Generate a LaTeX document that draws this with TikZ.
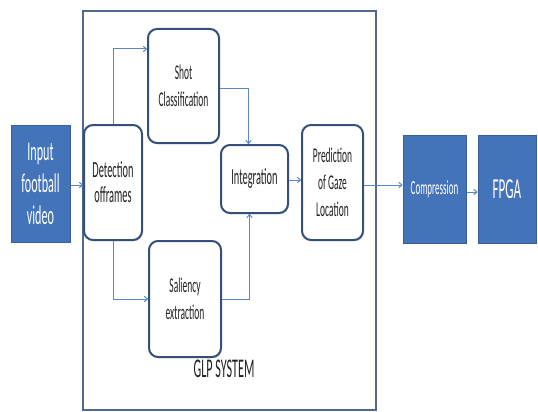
\documentclass[tikz,border=0pt]{standalone}
\usepackage{fontspec}
\setmainfont{Carlito}[FakeStretch=0.45]
\usetikzlibrary{arrows.meta,shadows}
\definecolor{bluefill}{HTML}{4373B9}
\definecolor{blueedge}{HTML}{3A5F95}
\definecolor{boxedge}{HTML}{344F78}
\definecolor{arrowc}{HTML}{5A87C2}
\definecolor{outeredge}{HTML}{52698F}
\definecolor{txt}{HTML}{222222}
\tikzset{
  bluebox/.style={draw=blueedge, line width=1pt, fill=bluefill, text=white, align=center, inner sep=0pt},
  roundbox/.style={draw=boxedge, line width=2pt, rounded corners=9pt, fill=white, text=txt, align=center, inner sep=0pt,
     drop shadow={shadow xshift=0.8pt, shadow yshift=-1.2pt, opacity=0.35}},
  outerbox/.style={draw=outeredge, line width=1.8pt, inner sep=0pt},
  arr/.style={draw=arrowc, line width=1pt, -{To[length=4pt,width=6pt]}},
}
\begin{document}
\begin{tikzpicture}[x=1pt,y=-1pt]
\useasboundingbox (0,0) rectangle (538,412);
\node[outerbox, minimum width=293pt, minimum height=399pt] (glp) at (229.5,210.5) {};
\node[text=txt, font=\fontsize{27}{29}\selectfont] (glplabel) at (224,369) {GLP SYSTEM};
\node[bluebox, minimum width=59pt, minimum height=117pt, font=\fontsize{27}{32}\selectfont] (input) at (40.5,183.5) {Input\\football\\video};
\node[roundbox, minimum width=58pt, minimum height=115pt, font=\fontsize{23}{25}\selectfont] (det) at (113,182.5) {Detection\\offrames};
\node[roundbox, minimum width=71pt, minimum height=114pt, font=\fontsize{21}{27}\selectfont] (shot) at (183.5,86) {Shot\\Classification};
\node[roundbox, minimum width=72pt, minimum height=116pt, font=\fontsize{21}{27}\selectfont] (sal) at (185,299) {Saliency\\extraction};
\node[roundbox, minimum width=67pt, minimum height=68pt, font=\fontsize{23}{25}\selectfont] (integ) at (254.5,179) {Integration};
\node[roundbox, minimum width=61pt, minimum height=115pt, font=\fontsize{21}{27}\selectfont] (pred) at (332.5,182.5) {Prediction\\of Gaze\\Location};
\node[bluebox, minimum width=63pt, minimum height=108pt, font=\fontsize{20}{22}\selectfont] (comp) at (434.5,189) {Compression};
\node[bluebox, minimum width=58pt, minimum height=108pt, font=\fontsize{29}{30}\selectfont] (fpga) at (507,189) {FPGA};
\draw[arr] ([yshift=-1.5pt]input.east) -- ([yshift=-1.5pt]input.east -| det.west);
\draw[arr] (det.north) |- ([yshift=-21pt]shot.north west);
\draw[arr] (det.south) |- (sal.west);
\draw[arr] ([yshift=-2pt]shot.east) -| ([xshift=-6pt]integ.north);
\draw[arr] (sal.east) -| ([xshift=-5pt]integ.south);
\draw[arr] ([yshift=-1pt]integ.east) -- ([yshift=-1pt]integ.east -| pred.west);
\draw[arr] ([yshift=-2.5pt]pred.east) -- ([yshift=-2.5pt]pred.east -| comp.west);
\draw[arr] ([yshift=-3pt]comp.east) -- ([yshift=-3pt]comp.east -| fpga.west);
\end{tikzpicture}
\end{document}
